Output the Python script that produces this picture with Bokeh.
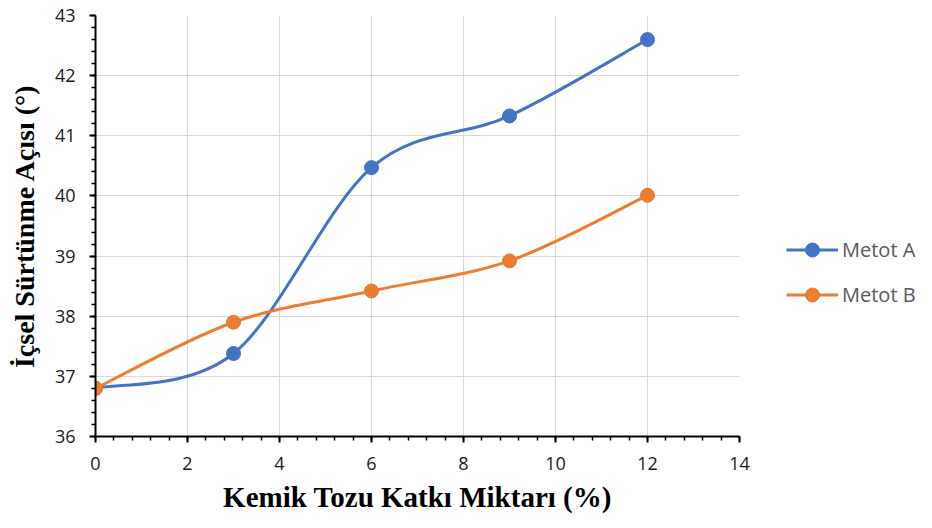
from bokeh.plotting import figure
from bokeh.embed import file_html
from bokeh.resources import INLINE
from bokeh.models import FixedTicker, Range1d, Legend, LegendItem

# data
katki = [0, 3, 6, 9, 12]
metot_a = [36.8, 37.38, 40.47, 41.33, 42.6]
metot_b = [36.8, 37.9, 38.42, 38.92, 40.01]
series_names = ["Metot A", "Metot B"]
colors = ["#4472C4", "#ED7D31"]
x_ticks = [0, 2, 4, 6, 8, 10, 12, 14]
y_ticks = [36, 37, 38, 39, 40, 41, 42, 43]

def smooth_segments(xs, ys):
    # Catmull-Rom style bezier control points (Excel "smoothed line")
    n = len(xs)
    out = {k: [] for k in ["x0", "y0", "x1", "y1", "cx0", "cy0", "cx1", "cy1"]}
    for i in range(n - 1):
        p0 = (xs[max(i - 1, 0)], ys[max(i - 1, 0)])
        p1 = (xs[i], ys[i])
        p2 = (xs[i + 1], ys[i + 1])
        p3 = (xs[min(i + 2, n - 1)], ys[min(i + 2, n - 1)])
        out["x0"].append(p1[0]); out["y0"].append(p1[1])
        out["x1"].append(p2[0]); out["y1"].append(p2[1])
        out["cx0"].append(p1[0] + (p2[0] - p0[0]) / 6.0)
        out["cy0"].append(p1[1] + (p2[1] - p0[1]) / 6.0)
        out["cx1"].append(p2[0] - (p3[0] - p1[0]) / 6.0)
        out["cy1"].append(p2[1] - (p3[1] - p1[1]) / 6.0)
    return out

p = figure(width=916, height=512, output_backend="svg", toolbar_location=None,
           x_range=Range1d(0, 14), y_range=Range1d(36, 43),
           frame_width=644, frame_height=421,
           min_border_left=95, min_border_top=15, min_border_right=177,
           min_border_bottom=76)
p.outline_line_color = None
p.background_fill_color = "white"
p.border_fill_color = "white"

tick_font = "Open Sans"
for ax in (p.xaxis, p.yaxis):
    ax.axis_line_color = "black"
    ax.axis_line_width = 2
    ax.major_tick_line_color = "black"
    ax.major_tick_line_width = 2
    ax.minor_tick_line_color = "black"
    ax.minor_tick_line_width = 1.5
    ax.major_tick_in = 0
    ax.major_tick_out = 6
    ax.minor_tick_in = 0
    ax.minor_tick_out = 4
    ax.major_label_text_font = tick_font
    ax.major_label_text_font_size = "18px"
    ax.major_label_text_color = "#1a1a1a"
    ax.axis_label_text_font = "Liberation Serif"
    ax.axis_label_text_font_style = "bold"
    ax.axis_label_text_color = "black"

p.xaxis.axis_label_text_font_size = "29px"
p.yaxis.axis_label_text_font_size = "28px"
p.xaxis.ticker = FixedTicker(ticks=x_ticks, minor_ticks=[i * 0.4 for i in range(36)])
p.yaxis.ticker = FixedTicker(ticks=y_ticks, minor_ticks=[36 + i * 0.2 for i in range(36)])
p.xaxis.axis_label = "Kemik Tozu Katkı Miktarı (%)"
p.yaxis.axis_label = "İçsel Sürtünme Açısı (°)"
p.xaxis.major_label_standoff = 14
p.yaxis.major_label_standoff = 14
p.xaxis.axis_label_standoff = 8
p.yaxis.axis_label_standoff = 12

p.xgrid.ticker = FixedTicker(ticks=x_ticks)
p.ygrid.ticker = FixedTicker(ticks=y_ticks)
p.grid.grid_line_color = "#d9d9d9"
p.grid.grid_line_width = 1

items = []
for name, ys, c in zip(series_names, [metot_a, metot_b], colors):
    seg = smooth_segments(katki, ys)
    r1 = p.bezier(source=seg, x0="x0", y0="y0", x1="x1", y1="y1",
                  cx0="cx0", cy0="cy0", cx1="cx1", cy1="cy1",
                  line_color=c, line_width=3)
    r2 = p.scatter(katki, ys, size=14, fill_color=c, line_color=c)
    items.append(LegendItem(label=name, renderers=[r1, r2]))

legend = Legend(items=items, location=(47, 124), orientation="vertical")
legend.border_line_color = None
legend.background_fill_alpha = 0
legend.padding = 0
legend.margin = 0
legend.glyph_width = 52
legend.glyph_height = 35
legend.spacing = 10
legend.label_standoff = 4
legend.label_text_font = tick_font
legend.label_text_font_size = "20px"
legend.label_text_color = "#595959"
p.add_layout(legend, "right")

open("out.html", "w").write(file_html(p, INLINE))
